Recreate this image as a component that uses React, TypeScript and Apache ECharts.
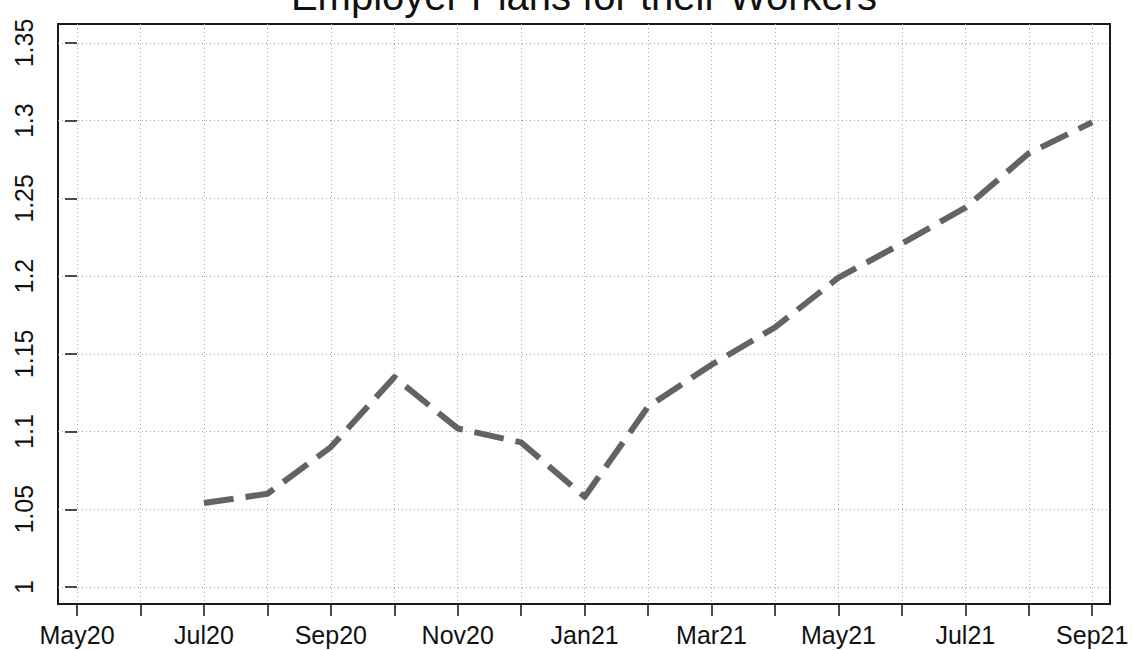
import React, { useEffect, useRef } from "react";
import * as echarts from "echarts";

const months = [
  "May20", "Jun20", "Jul20", "Aug20", "Sep20", "Oct20", "Nov20", "Dec20",
  "Jan21", "Feb21", "Mar21", "Apr21", "May21", "Jun21", "Jul21", "Aug21", "Sep21",
];
const values: (number | null)[] = [
  null, null, 1.054, 1.06, 1.09, 1.135, 1.102, 1.093,
  1.058, 1.116, 1.143, 1.167, 1.199, 1.221, 1.244, 1.279, 1.299,
];
const xTickLabels = ["May20", "Jul20", "Sep20", "Nov20", "Jan21", "Mar21", "May21", "Jul21", "Sep21"];
const yTicks = [1, 1.05, 1.1, 1.15, 1.2, 1.25, 1.3, 1.35];
const yTickLabels = ["1", "1.05", "1.1", "1.15", "1.2", "1.25", "1.3", "1.35"];
const title = "Employer Plans for their Workers";

export default function App() {
  const ref = useRef<HTMLDivElement>(null);
  useEffect(() => {
    if (!ref.current) return;
    const chart = echarts.init(ref.current, null, { renderer: "svg" });
    const font = "'Liberation Sans', Arial, Helvetica, sans-serif";
    const data = values
      .map((v, i) => [i, v])
      .filter((d) => d[1] !== null);
    const monthIdx = months.map((_, i) => i);
    const labelIdx = xTickLabels.map((l) => months.indexOf(l));
    chart.setOption({
      animation: false,
      backgroundColor: "#ffffff",
      textStyle: { fontFamily: font },
      graphic: [
        {
          type: "text",
          x: 584,
          y: -4,
          style: {
            text: title,
            fill: "#111",
            font: `40px ${font}`,
            textAlign: "center",
            textVerticalAlign: "middle",
          },
        },
      ],
      grid: {
        left: 58,
        right: 22,
        top: 24,
        bottom: 46,
        show: true,
        borderColor: "#1a1a1a",
        borderWidth: 2,
        backgroundColor: "transparent",
      },
      xAxis: {
        type: "value",
        min: -0.3,
        max: 16.28,
        axisLine: { show: false },
        axisTick: {
          show: true,
          length: 12,
          lineStyle: { color: "#111", width: 1.5 },
          customValues: monthIdx,
        },
        axisLabel: {
          customValues: labelIdx,
          formatter: (v: number) => months[Math.round(v)] ?? "",
          fontSize: 25,
          color: "#111",
          margin: 18,
          fontFamily: font,
        },
        splitLine: {
          show: true,
          lineStyle: { color: "#a8a8a8", width: 1, type: [1, 3] },
        },
      },
      yAxis: {
        type: "value",
        min: 0.98906,
        max: 1.3622,
        axisLine: { show: false },
        axisTick: {
          show: true,
          length: 12,
          lineStyle: { color: "#111", width: 1.5 },
          customValues: yTicks,
        },
        axisLabel: {
          customValues: yTicks,
          formatter: (v: number) => {
            const i = yTicks.findIndex((t) => Math.abs(t - v) < 1e-6);
            return i >= 0 ? yTickLabels[i] : "";
          },
          rotate: 90,
          fontSize: 25,
          color: "#111",
          margin: 22,
          fontFamily: font,
        },
        splitLine: {
          show: true,
          lineStyle: { color: "#a8a8a8", width: 1, type: [1, 3] },
        },
      },
      series: [
        {
          type: "line",
          data,
          showSymbol: false,
          symbol: "none",
          smooth: false,
          lineStyle: {
            color: "#636363",
            width: 6,
            type: [30, 12],
            cap: "butt",
            join: "round",
          },
        },
      ],
    });
    return () => chart.dispose();
  }, []);
  return (
    <div
      ref={ref}
      style={{ position: "absolute", left: 0, top: 0, width: 1132, height: 650 }}
    />
  );
}
